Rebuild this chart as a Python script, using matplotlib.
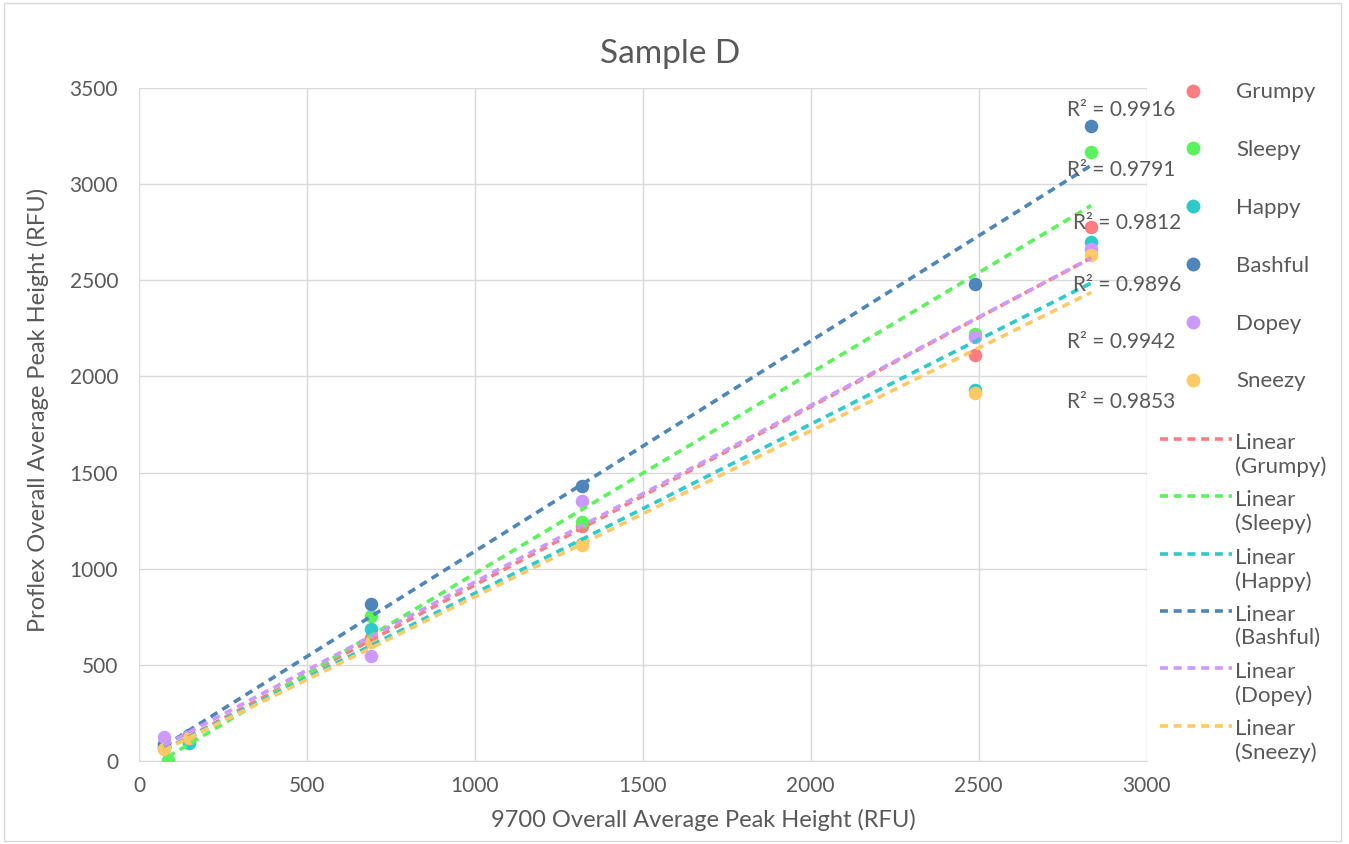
import numpy as np
import matplotlib
matplotlib.use('Agg')
import matplotlib.pyplot as plt
from matplotlib.lines import Line2D
from matplotlib.legend_handler import HandlerLine2D

plt.rcParams['font.family'] = ['Lato', 'DejaVu Sans']

names = ['Grumpy', 'Sleepy', 'Happy', 'Bashful', 'Dopey', 'Sneezy']
colors = ['#FF7C80', '#5CF25C', '#2EC9C9', '#4E86BA', '#CC99FF', '#FFC966']

# 9700 values (x) and Proflex values (y) per series
x_grumpy = [75, 150, 690, 1320, 2490, 2835]
y_grumpy = [80, 115, 640, 1220, 2110, 2775]
x_sleepy = [86, 150, 690, 1320, 2490, 2835]
y_sleepy = [5, 100, 755, 1245, 2220, 3165]
x_happy = [75, 150, 690, 1320, 2490, 2835]
y_happy = [70, 92, 685, 1130, 1930, 2700]
x_bashful = [75, 150, 690, 1320, 2490, 2835]
y_bashful = [90, 135, 815, 1430, 2480, 3300]
x_dopey = [75, 150, 690, 1320, 2490, 2835]
y_dopey = [125, 130, 545, 1350, 2205, 2665]
x_sneezy = [75, 150, 690, 1320, 2490, 2835]
y_sneezy = [65, 120, 620, 1123, 1915, 2630]

xs = [x_grumpy, x_sleepy, x_happy, x_bashful, x_dopey, x_sneezy]
ys = [y_grumpy, y_sleepy, y_happy, y_bashful, y_dopey, y_sneezy]

r2_labels = ['R² = 0.9916', 'R² = 0.9791', 'R² = 0.9812', 'R² = 0.9896', 'R² = 0.9942', 'R² = 0.9853']
r2_x = [2925, 2925, 2942, 2942, 2925, 2925]
r2_y = [3385, 3073, 2798, 2475, 2179, 1867]

gray = '#595959'
dash = (0, (2.2, 1.6))


class TopLineHandler(HandlerLine2D):
    # put the dashed sample next to the first text line, like Excel does
    def create_artists(self, legend, orig_handle, xdescent, ydescent, width,
                       height, fontsize, trans):
        arts = super().create_artists(legend, orig_handle, xdescent, ydescent,
                                      width, height, fontsize, trans)
        for a in arts:
            a.set_ydata(np.asarray(a.get_ydata()) + 0.72 * fontsize)
        return arts


fig = plt.figure(figsize=(13.49, 8.44), dpi=100)
ax = fig.add_axes([0.103, 0.0983, 0.747, 0.7974])

for x, y, c in zip(xs, ys, colors):
    ax.scatter(x, y, s=95, color=c, zorder=3, linewidths=0)

for x, y, c in zip(xs, ys, colors):
    x = np.array(x, float)
    k, b = np.polyfit(x, y, 1)
    xx = np.array([x.min(), x.max()])
    ax.plot(xx, k * xx + b, color=c, lw=2.6, ls=dash, zorder=4)

for t, tx, ty in zip(r2_labels, r2_x, r2_y):
    ax.text(tx, ty, t, ha='center', va='center', fontsize=15, color=gray, zorder=5)

ax.set_xlim(0, 3000)
ax.set_ylim(0, 3500)
ax.set_xticks(range(0, 3001, 500))
ax.set_yticks(range(0, 3501, 500))
ax.grid(True, color='#D9D9D9', lw=1)
ax.set_axisbelow(True)
for s in ['top', 'right', 'left']:
    ax.spines[s].set_visible(False)
ax.spines['bottom'].set_color('#D9D9D9')
ax.tick_params(length=0, labelsize=15, colors=gray)
ax.tick_params(axis='x', pad=11)
ax.tick_params(axis='y', pad=15)
ax.set_xlabel('9700 Overall Average Peak Height (RFU)', fontsize=17, color=gray, labelpad=9)
ax.set_ylabel('Proflex Overall Average Peak Height (RFU)', fontsize=17, color=gray, labelpad=15)
ax.xaxis.label.set_x(0.56)
ax.yaxis.label.set_y(0.521)
fig.suptitle('Sample D', x=0.497, y=0.954, va='top', fontsize=24, color=gray)

marker_handles = [Line2D([], [], ls='none', marker='o', ms=10, mec='none', color=c) for c in colors]
leg1 = fig.legend(marker_handles, names, loc='upper left', bbox_to_anchor=(0.853, 0.926),
                  frameon=False, fontsize=16, labelspacing=1.7, handletextpad=0.94,
                  labelcolor=gray)
line_handles = [Line2D([], [], color=c, lw=2.6, ls=dash) for c in colors]
line_labels = ['Linear\n(%s)' % n for n in names]
leg2 = fig.legend(line_handles, line_labels, loc='upper left', bbox_to_anchor=(0.845, 0.511),
                  frameon=False, fontsize=16, labelspacing=0.61, handlelength=3.25,
                  handletextpad=0.14, labelcolor=gray,
                  handler_map={Line2D: TopLineHandler()})

fig.patches.append(plt.Rectangle((0.003, 0.003), 0.991, 0.994, transform=fig.transFigure,
                                 fill=False, edgecolor='#D9D9D9', lw=1))

fig.savefig('out.png', dpi=100)
